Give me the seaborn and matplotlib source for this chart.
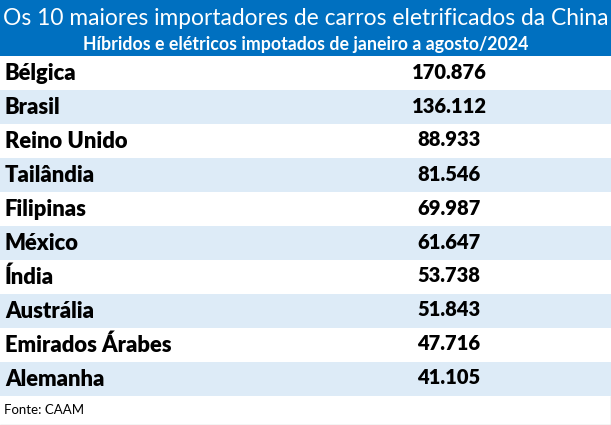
import matplotlib
matplotlib.use("Agg")
import matplotlib.pyplot as plt
import seaborn as sns

sns.set_theme(style="white")
plt.rcParams["font.family"] = ["Lato", "DejaVu Sans"]

title = "Os 10 maiores importadores de carros eletrificados da China"
subtitle = "Híbridos e elétricos impotados de janeiro a agosto/2024"
source = "Fonte: CAAM"

countries = ["Bélgica", "Brasil", "Reino Unido", "Tailândia", "Filipinas",
             "México", "Índia", "Austrália", "Emirados Árabes", "Alemanha"]
imports = [170876, 136112, 88933, 81546, 69987, 61647, 53738, 51843, 47716, 41105]

W, H = 611, 425
header_h = 56
row_h = 34
blue = "#0070C0"
stripe = "#DDEBF7"


def fmt(v):
    return f"{v:,}".replace(",", ".")


def fit_width(txt, target_px, renderer):
    # shrink the font until the text fits the given pixel width
    size = txt.get_fontsize()
    w = txt.get_window_extent(renderer).width
    txt.set_fontsize(size * target_px / w)


fig = plt.figure(figsize=(W / 100, H / 100), dpi=100)
ax = fig.add_axes([0, 0, 1, 1])
ax.set_xlim(0, W)
ax.set_ylim(H, 0)
ax.axis("off")
renderer = fig.canvas.get_renderer()

# header
ax.axhspan(0, header_h, color=blue, lw=0)
t = ax.text(W / 2, 18, title, color="white", fontsize=17, ha="center", va="center")
fit_width(t, 603, renderer)
s = ax.text(W / 2, 44, subtitle, color="white", fontsize=12.5, fontweight="bold",
            ha="center", va="center")
fit_width(s, 444, renderer)

# rows
for i, (name, val) in enumerate(zip(countries, imports)):
    top = header_h + i * row_h
    if i % 2 == 1:
        ax.axhspan(top, top + row_h, color=stripe, lw=0)
    yc = top + row_h / 2
    ax.text(5, yc, name, fontsize=15.8, fontweight="heavy", color="black",
            ha="left", va="center")
    ax.text(449, yc - 1, fmt(val), fontsize=14.5, fontweight="heavy", color="black",
            ha="center", va="center")

foot_top = header_h + len(countries) * row_h
ax.text(4, (foot_top + H) / 2, source, fontsize=9.5, color="black",
        ha="left", va="center")
ax.plot([0, W - 0.5, W - 0.5], [H - 0.5, H - 0.5, foot_top], color="#c8c8c8", lw=1)

fig.savefig("out.png", dpi=100)
